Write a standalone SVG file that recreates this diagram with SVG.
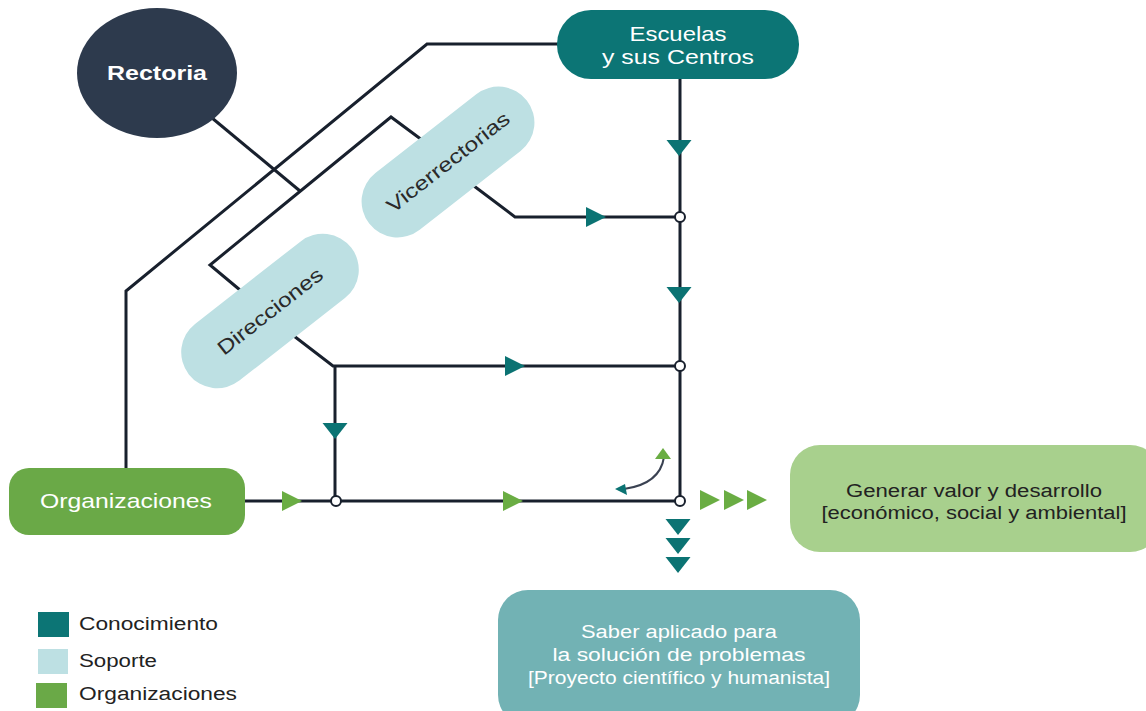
<svg xmlns="http://www.w3.org/2000/svg" width="1146" height="711" viewBox="0 0 1146 711">
  <style>
    .wire { fill: none; stroke: #18202d; stroke-width: 3; stroke-linejoin: miter; }
    .curve { fill: none; stroke: #3a4252; stroke-width: 2; }
    .dot { fill: #ffffff; stroke: #18202d; stroke-width: 2; }
    .teal { fill: #0b7373; }
    .green { fill: #6aad43; }
    .lbl { font-family: "Liberation Sans", Arial, sans-serif; text-anchor: middle; }
    .white { fill: #ffffff; }
    .dark { fill: #2a2a2a; }
    .legend { font-family: "Liberation Sans", Arial, sans-serif; font-size: 18px; fill: #222222; }
  </style>
  <defs>
    <path id="tri-r" d="M-10,-10 L10,0 L-10,10 Z"/>
    <path id="tri-d" d="M-12.5,-8 L12.5,-8 L0,8 Z"/>
  </defs>

  <rect width="1146" height="711" fill="#ffffff"/>

  <!-- connectors -->
  <g id="connectors">
    <!-- Escuelas to Organizaciones -->
    <polyline class="wire" points="560,44 427,44 126,291 126,470"/>
    <!-- Rectoria down to the support line -->
    <polyline class="wire" points="200,108 300,191"/>
    <!-- Direcciones to Vicerrectorias -->
    <polyline class="wire" points="240,290 210,265 391,117 422,140"/>
    <!-- Vicerrectorias out -->
    <polyline class="wire" points="470,183 515,217 680,217"/>
    <!-- Direcciones out -->
    <polyline class="wire" points="290,333 333,366 680,366"/>
    <line class="wire" x1="335" y1="366" x2="335" y2="501"/>
    <!-- main vertical -->
    <line class="wire" x1="680" y1="78" x2="680" y2="501"/>
    <!-- bottom horizontal -->
    <line class="wire" x1="244" y1="501" x2="680" y2="501"/>

    <!-- flow arrowheads -->
    <use href="#tri-d" class="teal" x="679" y="148"/>
    <use href="#tri-d" class="teal" x="679" y="295"/>
    <use href="#tri-d" class="teal" x="335" y="431"/>
    <use href="#tri-r" class="teal" x="596" y="217"/>
    <use href="#tri-r" class="teal" x="515" y="366"/>
    <use href="#tri-r" class="green" x="292" y="501"/>
    <use href="#tri-r" class="green" x="513" y="501"/>

    <!-- junctions -->
    <circle class="dot" cx="680" cy="217" r="5"/>
    <circle class="dot" cx="680" cy="366" r="5"/>
    <circle class="dot" cx="680" cy="501" r="5"/>
    <circle class="dot" cx="336" cy="501" r="5"/>

    <!-- feedback curve -->
    <path class="curve" d="M664,457 Q660,484 624,489"/>
    <polygon class="green" points="663,448 671,459 655,459"/>
    <polygon class="teal" points="615,489 625,484 627,495"/>

    <!-- outputs -->
    <use href="#tri-r" class="green" x="710" y="500"/>
    <use href="#tri-r" class="green" x="734" y="500"/>
    <use href="#tri-r" class="green" x="757" y="500"/>
    <use href="#tri-d" class="teal" x="678" y="527"/>
    <use href="#tri-d" class="teal" x="678" y="546"/>
    <use href="#tri-d" class="teal" x="678" y="565"/>
  </g>

  <!-- nodes -->
  <g id="rectoria">
    <ellipse cx="157" cy="73" rx="80" ry="65" fill="#2d3a4d"/>
    <text class="lbl white" x="157" y="80" font-size="20" font-weight="bold" textLength="100" lengthAdjust="spacingAndGlyphs">Rectoria</text>
  </g>

  <g id="escuelas">
    <rect x="557" y="10" width="242" height="69" rx="34" fill="#0c7575"/>
    <text class="lbl white" x="678" y="41" font-size="21" textLength="97" lengthAdjust="spacingAndGlyphs">Escuelas</text>
    <text class="lbl white" x="678" y="64" font-size="21" textLength="152" lengthAdjust="spacingAndGlyphs">y sus Centros</text>
  </g>

  <g id="vicerrectorias" transform="translate(448,162) rotate(-38)">
    <rect x="-100" y="-36" width="200" height="72" rx="36" fill="#bde0e3"/>
    <text class="lbl dark" x="0" y="7" font-size="20" textLength="150" lengthAdjust="spacingAndGlyphs">Vicerrectorias</text>
  </g>

  <g id="direcciones" transform="translate(270,311) rotate(-38)">
    <rect x="-103" y="-36" width="206" height="72" rx="36" fill="#bde0e3"/>
    <text class="lbl dark" x="0" y="7" font-size="20" textLength="128" lengthAdjust="spacingAndGlyphs">Direcciones</text>
  </g>

  <g id="organizaciones">
    <rect x="9" y="468" width="236" height="67" rx="20" fill="#6aa947"/>
    <text class="lbl white" x="126" y="508" font-size="21" textLength="172" lengthAdjust="spacingAndGlyphs">Organizaciones</text>
  </g>

  <g id="generar">
    <rect x="790" y="445" width="370" height="107" rx="30" fill="#a8d08d"/>
    <text class="lbl" fill="#222222" x="974" y="497" font-size="18" textLength="256" lengthAdjust="spacingAndGlyphs">Generar valor y desarrollo</text>
    <text class="lbl" fill="#222222" x="974" y="519" font-size="18" textLength="305" lengthAdjust="spacingAndGlyphs">[económico, social y ambiental]</text>
  </g>

  <g id="saber">
    <rect x="498" y="590" width="362" height="135" rx="30" fill="#72b2b4"/>
    <text class="lbl white" x="679" y="638" font-size="18" textLength="196" lengthAdjust="spacingAndGlyphs">Saber aplicado para</text>
    <text class="lbl white" x="679" y="661" font-size="18" textLength="253" lengthAdjust="spacingAndGlyphs">la solución de problemas</text>
    <text class="lbl white" x="679" y="684" font-size="18" textLength="302" lengthAdjust="spacingAndGlyphs">[Proyecto científico y humanista]</text>
  </g>

  <!-- legend -->
  <g id="legend">
    <rect x="38" y="612" width="31" height="25" fill="#0c7575"/>
    <rect x="38" y="649" width="30" height="25" fill="#bde0e3"/>
    <rect x="36" y="683" width="31" height="25" fill="#6aa947"/>
    <text class="legend" x="79" y="630" textLength="139" lengthAdjust="spacingAndGlyphs">Conocimiento</text>
    <text class="legend" x="79" y="667" textLength="78" lengthAdjust="spacingAndGlyphs">Soporte</text>
    <text class="legend" x="79" y="700" textLength="158" lengthAdjust="spacingAndGlyphs">Organizaciones</text>
  </g>
</svg>
